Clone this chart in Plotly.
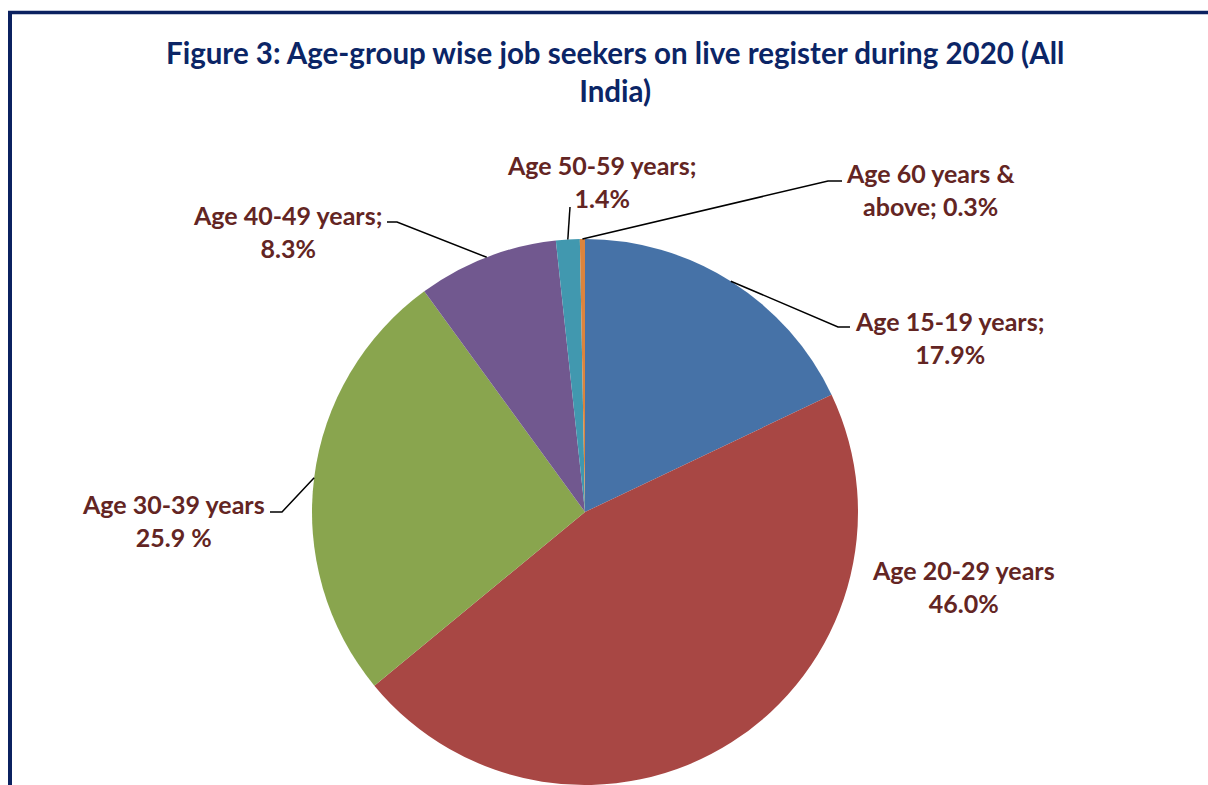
import math
import plotly.graph_objects as go

# ---- data ----
categories = ["Age 15-19 years", "Age 20-29 years", "Age 30-39 years",
              "Age 40-49 years", "Age 50-59 years", "Age 60 years & above"]
values = [17.9, 46.0, 25.9, 8.3, 1.4, 0.3]
label_texts = ["Age 15-19 years;<br>17.9%", "Age 20-29 years<br>46.0%",
               "Age 30-39 years<br>25.9 %", "Age 40-49 years;<br>8.3%",
               "Age 50-59 years;<br>1.4%", "Age 60 years &<br>above; 0.3%"]
title_text = "Figure 3: Age-group wise job seekers on live register during 2020 (All<br>India)"
colors = ["#4672A7", "#A84744", "#89A54E", "#71588F", "#4198AF", "#DB843D"]

W, H = 1208, 785
CX, TOP = 585, 239
R = (H - TOP) / 2.0
CY = TOP + R


def px(x):
    return x / W


def py(y):
    return 1 - y / H


fig = go.Figure()
fig.add_trace(go.Pie(
    labels=categories, values=values, sort=False, direction="clockwise",
    rotation=0, marker=dict(colors=colors, line=dict(width=0)),
    textinfo="none", hoverinfo="label+percent", showlegend=False,
    domain=dict(x=[px(CX - R), px(CX + R)], y=[0, py(TOP)]),
))

# label placement (pixel centres) and leader elbows
label_pos = [(949, 337), (963, 586), (174, 520), (287, 232), (601, 182), (930, 190)]
leaders = [
    [(838, 327), (850, 327)],
    None,
    [(282, 512), (270, 512)],
    [(397, 222), (387, 222)],
    [(570, 207)],
    [(828, 181), (842, 181)],
]

LABEL_COLOR = "#632523"
annotations = []
for txt, (lx, ly) in zip(label_texts, label_pos):
    annotations.append(dict(
        x=px(lx), y=py(ly), xref="paper", yref="paper", text=f"<b>{txt}</b>",
        showarrow=False, xanchor="center", yanchor="middle", align="center",
        font=dict(family="Lato", size=25, color=LABEL_COLOR),
    ))

annotations.append(dict(
    x=px(615), y=py(72), xref="paper", yref="paper",
    text=f"<b>{title_text}</b>",
    showarrow=False, xanchor="center", yanchor="middle", align="center",
    font=dict(family="Lato", size=29.5, color="#0B2566"),
))

shapes = []
total = sum(values)
cum = 0.0
for v, ld in zip(values, leaders):
    mid = (cum + v / 2) / total * 2 * math.pi
    cum += v
    if ld is None:
        continue
    ex = CX + R * math.sin(mid)
    ey = CY - R * math.cos(mid)
    pts = [(ex, ey)] + ld
    path = "M " + " L ".join(f"{px(a):.5f},{py(b):.5f}" for a, b in pts)
    shapes.append(dict(type="path", xref="paper", yref="paper", path=path,
                       line=dict(color="black", width=1.5)))

# chart border (top and left visible)
NAVY = "#0B2160"
shapes.append(dict(type="line", xref="paper", yref="paper",
                   x0=px(8), x1=1, y0=py(12.5), y1=py(12.5),
                   line=dict(color=NAVY, width=3.5)))
shapes.append(dict(type="line", xref="paper", yref="paper",
                   x0=px(10), x1=px(10), y0=py(11), y1=0,
                   line=dict(color=NAVY, width=4)))

fig.update_layout(
    width=W, height=H, margin=dict(l=0, r=0, t=0, b=0),
    paper_bgcolor="white", plot_bgcolor="white",
    annotations=annotations, shapes=shapes,
    font=dict(family="Lato"),
)

fig.write_html(
    "out.html",
    config={"displayModeBar": False},
    post_script="document.documentElement.style.margin='0';"
                "document.body.style.margin='0';"
                "document.body.style.overflow='hidden';",
)
